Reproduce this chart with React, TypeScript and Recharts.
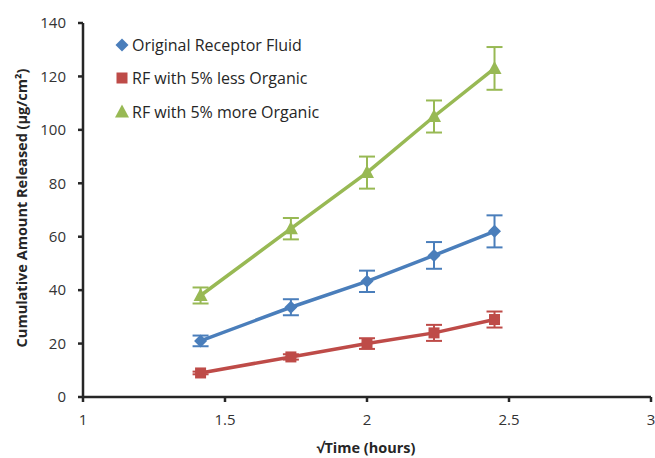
import { ErrorBar, Label, Line, LineChart, XAxis, YAxis } from "recharts"

// √time points (hours)
const sqrtTime = [1.414, 1.732, 2, 2.236, 2.449]

const original = [21, 33.6, 43.3, 53, 62]
const originalErr = [2, 3, 4, 5, 6]
const lessOrganic = [9, 15, 20, 24, 29]
const lessOrganicErr = [0.5, 1, 2, 3, 3]
const moreOrganic = [38, 63, 84, 105, 123]
const moreOrganicErr = [3, 4, 6, 6, 8]

const xTicks = [1, 1.5, 2, 2.5, 3]
const yTicks = [0, 20, 40, 60, 80, 100, 120, 140]

const BLUE = "#4a7ebb"
const RED = "#be4b48"
const GREEN = "#98b954"
const AXIS = "#262626"
const FONT = "'Open Sans', Lato, sans-serif"

const data = sqrtTime.map((x, i) => ({
  x,
  original: original[i],
  originalErr: originalErr[i],
  less: lessOrganic[i],
  lessErr: lessOrganicErr[i],
  more: moreOrganic[i],
  moreErr: moreOrganicErr[i],
}))

const series = [
  { key: "original", name: "Original Receptor Fluid", color: BLUE, shape: "diamond" },
  { key: "less", name: "RF with 5% less Organic", color: RED, shape: "square" },
  { key: "more", name: "RF with 5% more Organic", color: GREEN, shape: "triangle" },
]

function Marker({ cx, cy, shape, color }: any) {
  if (cx == null || cy == null) return null
  if (shape === "diamond") {
    const r = 6.5
    return <path d={`M${cx},${cy - r}L${cx + r},${cy}L${cx},${cy + r}L${cx - r},${cy}Z`} fill={color} />
  }
  if (shape === "square") {
    return <rect x={cx - 5.5} y={cy - 5.5} width={11} height={11} fill={color} />
  }
  return <path d={`M${cx},${cy - 7.5}L${cx + 7},${cy + 5.5}L${cx - 7},${cy + 5.5}Z`} fill={color} />
}

function LegendBox() {
  return (
    <div
      style={{
        position: "absolute",
        left: 113,
        top: 28,
        fontFamily: FONT,
        fontSize: 16,
        color: AXIS,
      }}
    >
      {series.map((s) => (
        <div key={s.key} style={{ display: "flex", alignItems: "center", height: 33.5 }}>
          <svg width={18} height={18} style={{ marginRight: 1 }}>
            <Marker cx={9} cy={9} shape={s.shape} color={s.color} />
          </svg>
          <span>{s.name}</span>
        </div>
      ))}
    </div>
  )
}

export default function App() {
  return (
    <div style={{ position: "absolute", left: 0, top: 0, width: 655, height: 458, background: "#fff" }}>
      <LineChart width={655} height={458} data={data} margin={{ top: 23, right: 4, bottom: 0, left: 0 }}>
        <XAxis
          type="number"
          dataKey="x"
          domain={[1, 3]}
          ticks={xTicks}
          height={61}
          stroke={AXIS}
          strokeWidth={2.5}
          tickSize={5}
          tickMargin={12}
          tick={{ fill: "#333", fontSize: 15, fontFamily: FONT }}
        >
          <Label
            content={() => (
              <text x={366} y={453} textAnchor="middle" fontFamily={FONT} fontSize={14.5} fontWeight="bold" fill={AXIS}>
                √Time (hours)
              </text>
            )}
          />
        </XAxis>
        <YAxis
          domain={[0, 140]}
          ticks={yTicks}
          width={83}
          stroke={AXIS}
          strokeWidth={2.5}
          tickSize={5}
          tickMargin={12}
          tick={{ fill: "#333", fontSize: 15, fontFamily: FONT }}
        >
          <Label
            content={() => (
              <text
                x={21}
                y={208}
                transform="rotate(-90, 21, 208)"
                textAnchor="middle"
                dominantBaseline="central"
                fontFamily={FONT}
                fontSize={14.5}
                fontWeight="bold"
                fill={AXIS}
              >
                Cumulative Amount Released (µg/cm²)
              </text>
            )}
          />
        </YAxis>
        {series.map((s) => (
          <Line
            key={s.key}
            type="linear"
            dataKey={s.key}
            name={s.name}
            stroke={s.color}
            strokeWidth={3.5}
            isAnimationActive={false}
            dot={(p: any) => <Marker key={`${s.key}-${p.index}`} cx={p.cx} cy={p.cy} shape={s.shape} color={s.color} />}
            activeDot={false}
          >
            <ErrorBar dataKey={`${s.key}Err`} direction="y" width={8} stroke={s.color} strokeWidth={2} />
          </Line>
        ))}
      </LineChart>
      <LegendBox />
    </div>
  )
}
